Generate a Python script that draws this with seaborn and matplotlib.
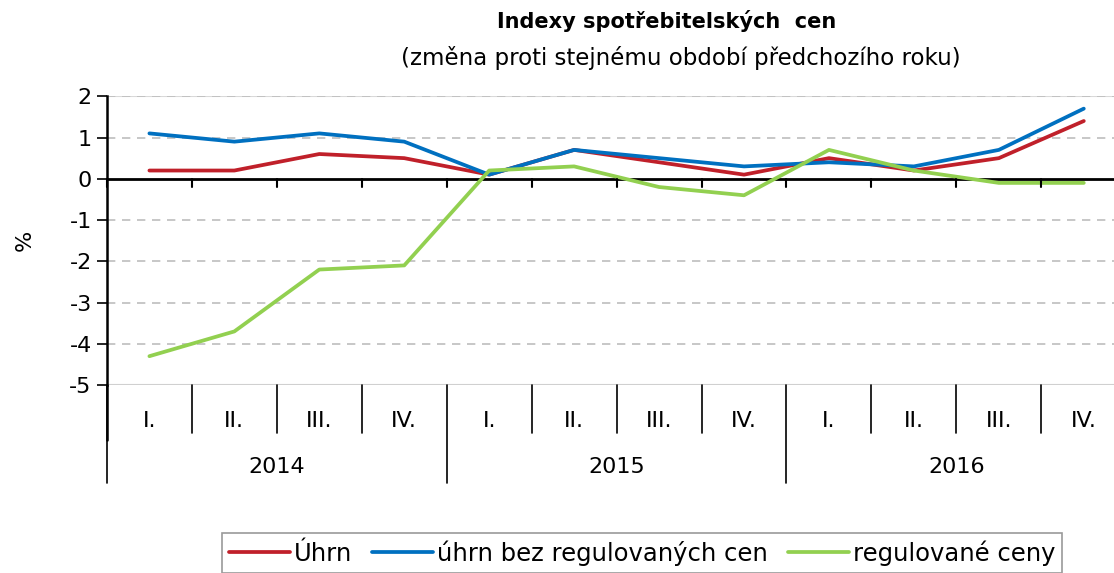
import numpy as np
import pandas as pd
import seaborn as sns
import matplotlib.pyplot as plt
from matplotlib.transforms import blended_transform_factory

# data
years = ['2014', '2015', '2016']
quarters = ['I.', 'II.', 'III.', 'IV.']
uhrn = [0.2, 0.2, 0.6, 0.5, 0.1, 0.7, 0.4, 0.1, 0.5, 0.2, 0.5, 1.4]
uhrn_bez = [1.1, 0.9, 1.1, 0.9, 0.1, 0.7, 0.5, 0.3, 0.4, 0.3, 0.7, 1.7]
regulovane = [-4.3, -3.7, -2.2, -2.1, 0.2, 0.3, -0.2, -0.4, 0.7, 0.2, -0.1, -0.1]
series_names = ['Úhrn', 'úhrn bez regulovaných cen', 'regulované ceny']
colors = ['#C0202A', '#0070C0', '#92D050']

n = len(uhrn)
df = pd.DataFrame({
    'pos': list(range(n)) * 3,
    'value': uhrn + uhrn_bez + regulovane,
    'serie': [s for s in series_names for _ in range(n)],
})

sns.set_style('white')
plt.rcParams['font.family'] = ['DejaVu Sans']
plt.rcParams['text.color'] = 'black'
plt.rcParams['axes.labelcolor'] = 'black'
plt.rcParams['ytick.color'] = 'black'
fs = 16
lw = 2.7

fig = plt.figure(figsize=(11.14, 5.73), dpi=100)
ax = fig.add_axes([0.096, 0.328, 0.915, 0.504])

sns.lineplot(data=df, x='pos', y='value', hue='serie', palette=colors,
             hue_order=series_names, linewidth=lw, ax=ax, legend=False,
             sort=False)

ax.set_xlim(-0.5, n - 0.5)
ax.set_ylim(-5, 2)
ax.set_yticks(range(-5, 3))
ax.set_yticklabels([str(v) for v in range(-5, 3)], fontsize=fs)
ax.tick_params(axis='y', direction='out', length=7, width=1.2, color='black', pad=4,
               left=True, labelcolor='black')
ax.set_xticks([])
ax.set_xlabel('')
ax.set_ylabel('%', fontsize=fs, labelpad=25)

# grid
for v in range(-4, 2):
    if v != 0:
        ax.axhline(v, color='#BEBEBE', lw=1.2, ls=(0, (5, 4)), zorder=0)
ax.axhline(2, color='#D9D9D9', lw=1.5, zorder=0)
ax.axhline(2, color='#BEBEBE', lw=1.2, ls=(0, (5, 4)), zorder=0)
ax.axhline(-5, color='#D0D0D0', lw=1.5, zorder=0)
ax.axhline(0, color='black', lw=2, zorder=1)

for s in ['top', 'right', 'bottom']:
    ax.spines[s].set_visible(False)
ax.spines['left'].set_color('black')
ax.spines['left'].set_linewidth(1.8)
ax.spines['left'].set_zorder(3)

# category axis below the plot
trans = blended_transform_factory(ax.transData, ax.transAxes)
ax.plot([-0.5, -0.5], [0, -0.19], color='black', lw=1.8, transform=trans, clip_on=False)
for i in range(n + 1):
    b = i - 0.5
    # small ticks on the zero line
    ax.plot([b, b], [0, -0.2], color='black', lw=1.5, transform=ax.transData,
            clip_on=False, zorder=2)
    if i % 4 == 0:
        ax.plot([b, b], [0, -0.34], color='black', lw=1.2, transform=trans, clip_on=False)
    else:
        ax.plot([b, b], [0, -0.165], color='black', lw=1.2, transform=trans, clip_on=False)
for i in range(n):
    ax.text(i, -0.125, quarters[i % 4], transform=trans, ha='center', va='center',
            fontsize=fs)
for j, y in enumerate(years):
    ax.text(4 * j + 1.5, -0.285, y, transform=trans, ha='center', va='center',
            fontsize=fs)

fig.text(0.598, 0.963, 'Indexy spotřebitelských  cen', ha='center', va='center',
         fontsize=15, fontweight='bold')
fig.text(0.611, 0.898, '(změna proti stejnému období předchozího roku)', ha='center',
         va='center', fontsize=16.5)

handles = [plt.Line2D([], [], color=c, lw=lw) for c in colors]
leg = fig.legend(handles, series_names, loc='upper left',
                 bbox_to_anchor=(0.199, 0.07), ncol=3, fontsize=17.5,
                 frameon=True, fancybox=False, edgecolor='#808080',
                 handlelength=2.5, handletextpad=0.15, columnspacing=0.85,
                 borderpad=0.3, borderaxespad=0)
leg.get_frame().set_linewidth(1.2)

fig.savefig('out.png', dpi=100)
